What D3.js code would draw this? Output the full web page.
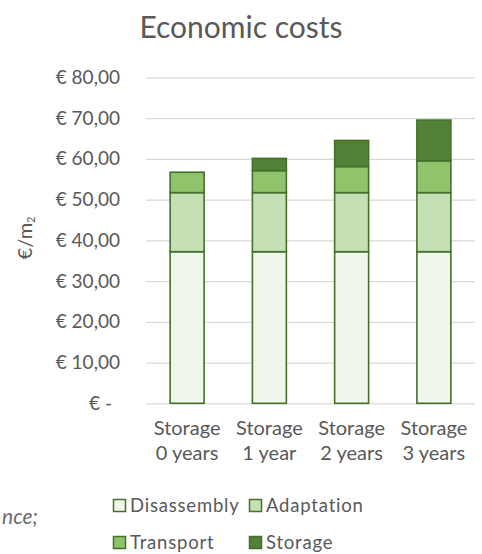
<!DOCTYPE html>
<html>
<head>
<meta charset="utf-8">
<script src="https://cdn.jsdelivr.net/npm/d3@7"></script>
<style>
  html, body { margin: 0; padding: 0; background: #fff; }
  svg { display: block; font-family: Lato, "Open Sans", sans-serif; }
</style>
</head>
<body>
<svg id="chart" width="482" height="554"></svg>
<script>
// Cost per m² for each storage scenario, stacked by cost component
const categories = ["Storage 0 years", "Storage 1 year", "Storage 2 years", "Storage 3 years"];
const categoryLines = [["Storage", "0 years"], ["Storage", "1 year"], ["Storage", "2 years"], ["Storage", "3 years"]];
const seriesNames = ["Disassembly", "Adaptation", "Transport", "Storage"];
const disassembly = [37.2, 37.2, 37.2, 37.2];
const adaptation = [14.5, 14.5, 14.5, 14.5];
const transport = [5.0, 5.4, 6.4, 7.8];
const storage = [0.0, 3.0, 6.4, 10.0];
const yTicks = [0, 10, 20, 30, 40, 50, 60, 70, 80];

const colors = ["#eff6ea", "#c5e0b4", "#8fc46c", "#538135"];
const barStroke = "#44702c";
const textColor = "#595959";

const rows = categories.map((c, i) => ({
  category: c,
  Disassembly: disassembly[i],
  Adaptation: adaptation[i],
  Transport: transport[i],
  Storage: storage[i]
}));
const stacked = d3.stack().keys(seriesNames)(rows);

const svg = d3.select("#chart");

const x = d3.scaleBand().domain(categories).range([146, 475]).paddingInner(0.587).paddingOuter(0.2935);
const y = d3.scaleLinear().domain([0, 80]).range([403.3, 77.3]);

// Title
svg.append("text")
  .attr("x", 241).attr("y", 38)
  .attr("text-anchor", "middle")
  .attr("font-size", 30)
  .attr("fill", textColor)
  .text("Economic costs");

// Gridlines and y tick labels
const fmt = v => v === 0 ? "€ -" : "€ " + d3.format(".2f")(v).replace(".", ",");
const yAxis = svg.append("g")
  .attr("transform", "translate(146,0)")
  .call(d3.axisLeft(y).tickValues(yTicks).tickFormat(fmt).tickSize(-(475 - 146)).tickPadding(26));
yAxis.select(".domain").remove();
yAxis.selectAll(".tick line").attr("stroke", "#d9d9d9").attr("stroke-width", 1.3);
yAxis.selectAll(".tick text")
  .attr("fill", textColor)
  .attr("font-size", 19)
  .attr("font-family", "Lato, sans-serif")
  .filter(d => d === 0).attr("dx", -8);

// Stacked bars
svg.append("g").selectAll("g")
  .data(stacked)
  .join("g")
  .attr("fill", (d, i) => colors[i])
  .selectAll("rect")
  .data(d => d.filter(s => s[1] - s[0] > 0))
  .join("rect")
  .attr("x", d => x(d.data.category))
  .attr("width", x.bandwidth())
  .attr("y", d => y(d[1]))
  .attr("height", d => y(d[0]) - y(d[1]))
  .attr("stroke", barStroke)
  .attr("stroke-width", 1.6);

// Category labels (two lines each)
const xLabels = svg.append("g").selectAll("text")
  .data(categories)
  .join("text")
  .attr("text-anchor", "middle")
  .attr("font-size", 20)
  .attr("fill", textColor);
xLabels.each(function(c, i) {
  const cx = x(c) + x.bandwidth() / 2;
  d3.select(this).selectAll("tspan")
    .data(categoryLines[i])
    .join("tspan")
    .attr("x", cx)
    .attr("y", (d, j) => 435 + j * 24.5)
    .text(d => d);
});

// Y axis title: €/m₂
const yTitle = svg.append("text")
  .attr("transform", "translate(32,238) rotate(-90)")
  .attr("text-anchor", "middle")
  .attr("font-size", 20)
  .attr("fill", textColor);
yTitle.append("tspan").text("€/m");
yTitle.append("tspan").attr("font-size", 11).attr("dy", 3).text("2");

// Legend
const legendPos = [[113, 506], [249, 506], [113, 543], [249, 543]];
const legend = svg.append("g").selectAll("g")
  .data(seriesNames)
  .join("g")
  .attr("transform", (d, i) => `translate(${legendPos[i][0]},${legendPos[i][1]})`);
legend.append("rect")
  .attr("x", 0.5).attr("y", -6.5)
  .attr("width", 12).attr("height", 12)
  .attr("fill", (d, i) => colors[i])
  .attr("stroke", barStroke)
  .attr("stroke-width", 1.5);
legend.append("text")
  .attr("x", 17).attr("y", 6)
  .attr("font-size", 18.5)
  .attr("letter-spacing", 0.8)
  .attr("fill", textColor)
  .text(d => d);

// Fragment of the surrounding caption text
svg.append("text")
  .attr("x", 38).attr("y", 524)
  .attr("text-anchor", "end")
  .attr("font-size", 21)
  .attr("font-style", "italic")
  .attr("fill", "#6b6b6b")
  .text("nce;");
</script>
</body>
</html>
